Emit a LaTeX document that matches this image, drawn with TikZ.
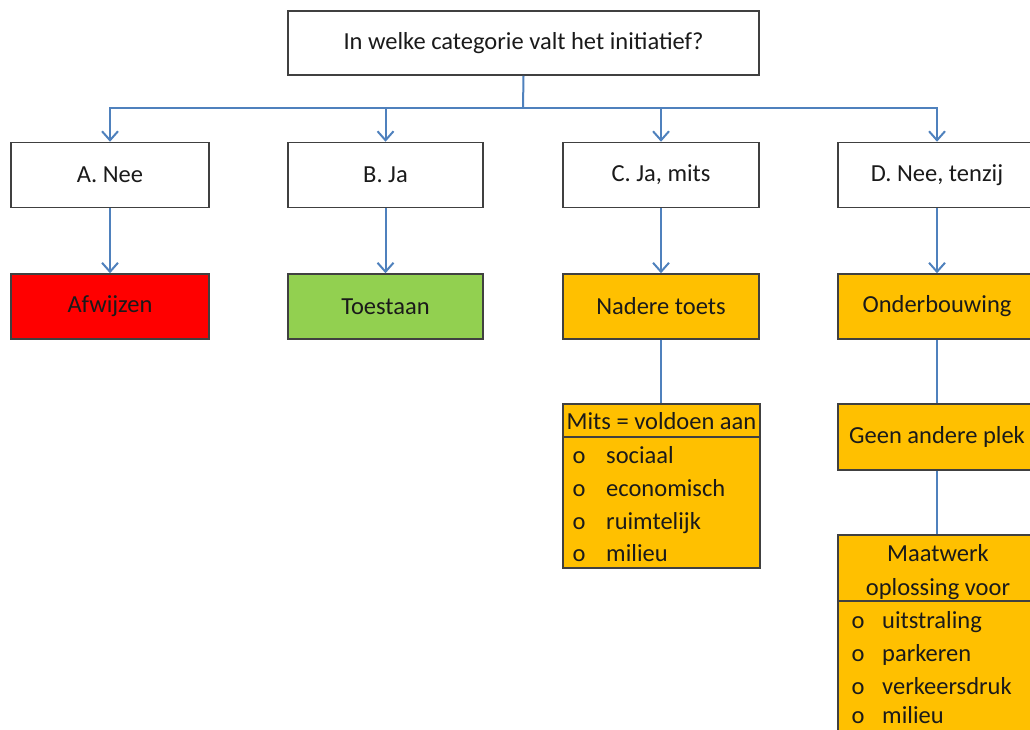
\documentclass[tikz,border=0pt]{standalone}
\usepackage{fontspec}
\setmainfont{Carlito}
\usetikzlibrary{arrows.meta}
\definecolor{conn}{HTML}{4F81BD}
\definecolor{bord}{HTML}{404040}
\definecolor{redf}{HTML}{FF0000}
\definecolor{greenf}{HTML}{92D050}
\definecolor{orangef}{HTML}{FFC000}
\definecolor{txt}{HTML}{1A1A1A}
\tikzset{
  box/.style={draw=bord, line width=1.5pt, rectangle, inner sep=0pt, text=txt, font=\fontsize{24.5}{29}\selectfont},
  wbox/.style={box, fill=white},
  rbox/.style={box, fill=redf},
  gbox/.style={box, fill=greenf},
  obox/.style={box, fill=orangef},
  lbl/.style={inner sep=0pt, text=txt, font=\fontsize{24.5}{29}\selectfont},
  wire/.style={draw=conn, line width=2pt},
  arr/.style={wire, -{Straight Barb[length=9pt,width=16pt,line width=2pt]}},
  sep/.style={draw=bord, line width=1.5pt}
}
\begin{document}
\begin{tikzpicture}[x=1pt,y=-1pt]
\useasboundingbox (0,0) rectangle (1030,729);
\clip (0,0) rectangle (1030,729);
% top
\node[wbox, minimum width=471pt, minimum height=64pt] (top) at (523.5,43) {In welke categorie valt het initiatief?};
\coordinate (bus) at (523,108);
% level 1
\node[wbox, minimum width=198pt, minimum height=65pt] (a) at (110,175) {A. Nee};
\node[wbox, minimum width=195pt, minimum height=65pt] (b) at (385.5,175) {B. Ja};
\node[wbox, minimum width=196pt, minimum height=65pt] (c) at (661,175) {C. Ja, mits};
\node[wbox, minimum width=198pt, minimum height=65pt] (d) at (937,175) {D. Nee, tenzij};
% level 2
\node[rbox, minimum width=198pt, minimum height=65pt] (afw) at (110,306.5) {Afwijzen};
\node[gbox, minimum width=195pt, minimum height=65pt] (toe) at (385.5,306.5) {Toestaan};
\node[obox, minimum width=196pt, minimum height=65pt] (nad) at (661,306.5) {Nadere toets};
\node[obox, minimum width=198pt, minimum height=65pt] (ond) at (937,306.5) {Onderbouwing};
% mits box
\node[obox, minimum width=197pt, minimum height=164pt] (mits) at (661.5,486) {};
\draw[sep] (mits.west |- 0,437) -- (mits.east |- 0,437);
\node[lbl, anchor=base] (mitsh) at (661.5,429) {Mits = voldoen aan};
\node[lbl, anchor=base] (m1o) at (579,463) {o};
\node[lbl, anchor=base west] (m1) at (606,463) {sociaal};
\node[lbl, anchor=base] (m2o) at (579,496) {o};
\node[lbl, anchor=base west] (m2) at (606,496) {economisch};
\node[lbl, anchor=base] (m3o) at (579,529) {o};
\node[lbl, anchor=base west] (m3) at (606,529) {ruimtelijk};
\node[lbl, anchor=base] (m4o) at (579,561) {o};
\node[lbl, anchor=base west] (m4) at (606,561) {milieu};
% geen andere plek
\node[obox, minimum width=198pt, minimum height=66pt] (geen) at (937,437) {Geen andere plek};
% maatwerk
\node[obox, minimum width=198pt, minimum height=220pt] (maat) at (937,645) {};
\draw[sep] (maat.west |- 0,601) -- (maat.east |- 0,601);
\node[lbl, anchor=base] (maath1) at (938,561) {Maatwerk};
\node[lbl, anchor=base] (maath2) at (938,595) {oplossing voor};
\node[lbl, anchor=base] (w1o) at (858,628) {o};
\node[lbl, anchor=base west] (w1) at (882,628) {uitstraling};
\node[lbl, anchor=base] (w2o) at (858,661) {o};
\node[lbl, anchor=base west] (w2) at (882,661) {parkeren};
\node[lbl, anchor=base] (w3o) at (858,694) {o};
\node[lbl, anchor=base west] (w3) at (882,694) {verkeersdruk};
\node[lbl, anchor=base] (w4o) at (858,723) {o};
\node[lbl, anchor=base west] (w4) at (882,723) {milieu};
% connectors
\draw[wire] (top.south) -- (bus);
\draw[arr] (bus) -| (a.north);
\draw[arr] (bus) -| (b.north);
\draw[arr] (bus) -| (c.north);
\draw[arr] (bus) -| (d.north);
\draw[arr] (a.south) -- (afw.north);
\draw[arr] (b.south) -- (toe.north);
\draw[arr] (c.south) -- (nad.north);
\draw[arr] (d.south) -- (ond.north);
\draw[wire] (nad.south) -- (mits.north -| nad.south);
\draw[wire] (ond.south) -- (geen.north -| ond.south);
\draw[wire] (geen.south) -- (maat.north -| geen.south);
\end{tikzpicture}
\end{document}
